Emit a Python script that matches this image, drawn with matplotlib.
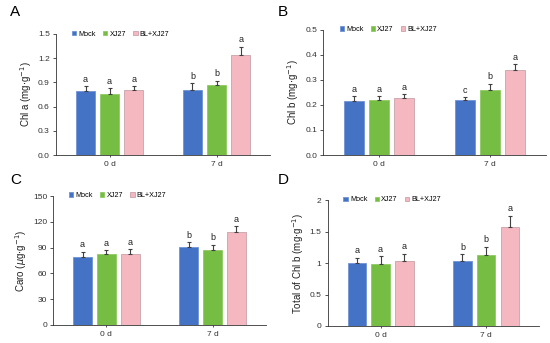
import matplotlib
matplotlib.use("Agg")
import matplotlib.pyplot as plt
import numpy as np

plt.rcParams['font.family'] = ['Liberation Sans', 'DejaVu Sans']

days = ["0 d", "7 d"]
treatments = ["Mock", "XJ27", "BL+XJ27"]
colors = ["#4472C4", "#76BD43", "#F5B7C0"]
edges = ["#6F93D6", "#8FCB63", "#C9A4AA"]

# values per treatment: [0 d, 7 d]
chla_mean = [[0.79, 0.81], [0.76, 0.87], [0.80, 1.24]]
chla_err = [[0.06, 0.08], [0.07, 0.05], [0.05, 0.10]]
chla_letters = [["a", "b"], ["a", "b"], ["a", "a"]]

chlb_mean = [[0.215, 0.220], [0.220, 0.260], [0.227, 0.340]]
chlb_err = [[0.020, 0.010], [0.015, 0.025], [0.015, 0.022]]
chlb_letters = [["a", "c"], ["a", "b"], ["a", "a"]]

caro_mean = [[79, 91], [82, 87], [82, 108]]
caro_err = [[6, 5], [5, 6], [6, 7]]
caro_letters = [["a", "b"], ["a", "b"], ["a", "a"]]

total_mean = [[1.00, 1.03], [0.98, 1.13], [1.03, 1.58]]
total_err = [[0.08, 0.11], [0.13, 0.13], [0.12, 0.17]]
total_letters = [["a", "b"], ["a", "b"], ["a", "a"]]

panels = [
    ("A", [0.102, 0.548, 0.389, 0.353], chla_mean, chla_err, chla_letters,
     r"Chl a (mg$\cdot$g$^{-1}$)", np.arange(0, 1.51, 0.3), "{:.1f}", 1.5),
    ("B", [0.588, 0.548, 0.404, 0.365], chlb_mean, chlb_err, chlb_letters,
     r"Chl b (mg$\cdot$g$^{-1}$)", np.arange(0, 0.51, 0.1), "{:.1f}", 0.5),
    ("C", [0.097, 0.0525, 0.386, 0.376], caro_mean, caro_err, caro_letters,
     r"Caro ($\mu$g$\cdot$g$^{-1}$)", np.arange(0, 151, 30), "{:.0f}", 150),
    ("D", [0.596, 0.0496, 0.384, 0.367], total_mean, total_err, total_letters,
     r"Total of Chl b (mg$\cdot$g$^{-1}$)", np.arange(0, 2.01, 0.5), "{:g}", 2.0),
]

fig = plt.figure(figsize=(5.5, 3.43), dpi=100)

label_pos = {"A": (0.018, 0.985), "B": (0.505, 0.985), "C": (0.018, 0.495), "D": (0.505, 0.495)}

x = np.arange(len(days))
width = 0.175
step = 0.225

for name, rect, means, errs, letters, ylabel, yt, fmt, ymax in panels:
    ax = fig.add_axes(rect)
    for i, t in enumerate(treatments):
        pos = x + (i - 1) * step
        m = np.array(means[i], dtype=float)
        e = np.array(errs[i], dtype=float)
        ax.bar(pos, m, width, color=colors[i], edgecolor=edges[i],
               linewidth=0.6, label=t, zorder=2)
        ax.errorbar(pos, m, yerr=[np.zeros_like(e), e], fmt="none",
                    ecolor="#404040", elinewidth=0.8, capsize=1.5,
                    capthick=0.8, zorder=3)
        for p, v, ev, lt in zip(pos, m, e, letters[i]):
            ax.text(p, v + ev + ymax * 0.02, lt, ha="center", va="bottom",
                    fontsize=6.5, color="#222222")
    ax.set_xlim(-0.5, 1.5)
    ax.set_ylim(0, ymax)
    ax.set_yticks(yt)
    ax.set_yticklabels([fmt.format(v) for v in yt])
    ax.set_xticks(x)
    ax.set_xticklabels(days)
    ax.tick_params(axis="y", labelsize=6, length=2.5, width=0.6,
                   colors="#333333", pad=2)
    ax.tick_params(axis="x", labelsize=6, length=1.5, width=0.6,
                   colors="#333333", pad=3)
    for s in ["top", "right"]:
        ax.spines[s].set_visible(False)
    ax.spines["left"].set_linewidth(0.6)
    ax.spines["bottom"].set_linewidth(0.6)
    ax.spines["left"].set_color("#333333")
    ax.spines["bottom"].set_color("#333333")
    ax.set_ylabel(ylabel, fontsize=7, color="#222222", labelpad=3)
    ax.legend(loc="upper left", bbox_to_anchor=(0.05, 1.07), ncol=3,
              frameon=False, fontsize=5.2, handlelength=0.6,
              handleheight=0.6, handletextpad=0.3, columnspacing=1.0,
              borderpad=0.2)
    lx, ly = label_pos[name]
    fig.text(lx, ly, name, fontsize=11, ha="left", va="top")

fig.savefig("out.png", dpi=100)
